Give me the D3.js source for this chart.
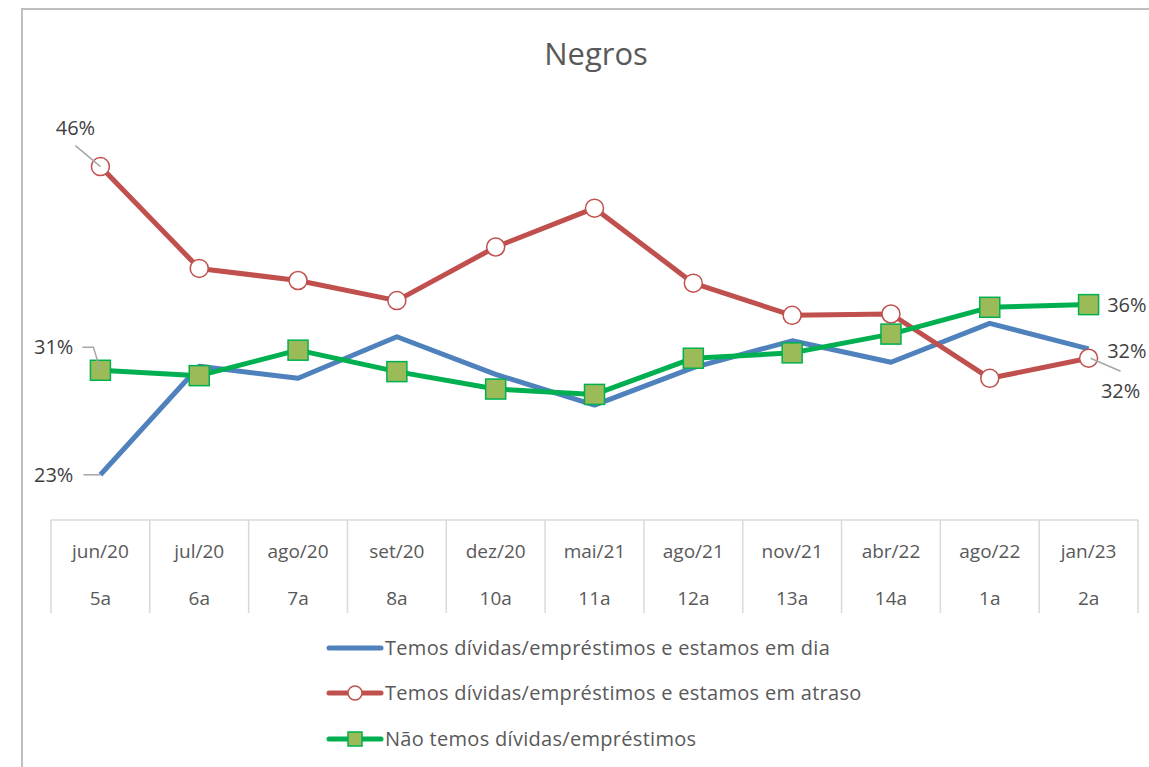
<!DOCTYPE html>
<html>
<head>
<meta charset="utf-8">
<script src="https://cdn.jsdelivr.net/npm/d3@7"></script>
<style>
  body { margin: 0; background: #fff; }
  svg { display: block; font-family: "Open Sans", Lato, sans-serif; }
</style>
</head>
<body>
<script>
'use strict';

// categories (two-row tick labels)
const months = ["jun/20", "jul/20", "ago/20", "set/20", "dez/20", "mai/21", "ago/21", "nov/21", "abr/22", "ago/22", "jan/23"];
const waves = ["5a", "6a", "7a", "8a", "10a", "11a", "12a", "13a", "14a", "1a", "2a"];

// series values (%)
const emDia = [23.0, 31.1, 30.2, 33.3, 30.5, 28.2, 31.0, 33.0, 31.4, 34.3, 32.4];
const emAtraso = [46.0, 38.4, 37.5, 36.0, 40.0, 42.9, 37.3, 34.9, 35.0, 30.2, 31.7];
const semDividas = [30.8, 30.4, 32.3, 30.7, 29.4, 29.0, 31.7, 32.1, 33.5, 35.5, 35.7];

const seriesNames = [
  "Temos dívidas/empréstimos e estamos em dia",
  "Temos dívidas/empréstimos e estamos em atraso",
  "Não temos dívidas/empréstimos"
];

(function () {
  const width = 1149, height = 767;
  const svg = d3.select("body").append("svg")
    .attr("width", width)
    .attr("height", height);

  // chart frame (only top and left edges are visible, rest is cropped)
  svg.append("path")
    .attr("d", "M22,767V9H1149")
    .attr("fill", "none")
    .attr("stroke", "#bfbfbf")
    .attr("stroke-width", 2);

  // title
  svg.append("text")
    .attr("x", 596)
    .attr("y", 65)
    .attr("text-anchor", "middle")
    .style("font-size", "31px")
    .style("fill", "#595959")
    .text("Negros");

  // scales
  const x = d3.scaleBand()
    .domain(months)
    .range([51, 1138]);
  const cx = function (i) { return x(months[i]) + x.bandwidth() / 2; };

  const y = d3.scaleLinear()
    .domain([20, 50])
    .range([515, 113]);

  // category axis drawn as a table
  const axisTop = 520, axisBottom = 613;
  const axis = svg.append("g");
  axis.append("line")
    .attr("x1", x.range()[0]).attr("x2", x.range()[1])
    .attr("y1", axisTop).attr("y2", axisTop)
    .attr("stroke", "#d9d9d9").attr("stroke-width", 1.5);
  const edges = months.map((m) => x(m)).concat([x.range()[1]]);
  axis.selectAll(".div")
    .data(edges)
    .enter()
    .append("line")
    .attr("x1", (d) => d).attr("x2", (d) => d)
    .attr("y1", axisTop).attr("y2", axisBottom)
    .attr("stroke", "#d9d9d9").attr("stroke-width", 1.5);
  axis.selectAll(".m")
    .data(months)
    .enter()
    .append("text")
    .attr("x", (d, i) => cx(i))
    .attr("y", 558)
    .attr("text-anchor", "middle")
    .style("font-size", "19px")
    .style("fill", "#595959")
    .text((d) => d);
  axis.selectAll(".w")
    .data(waves)
    .enter()
    .append("text")
    .attr("x", (d, i) => cx(i))
    .attr("y", 605)
    .attr("text-anchor", "middle")
    .style("font-size", "19px")
    .style("fill", "#595959")
    .text((d) => d);

  const line = d3.line()
    .x((d, i) => cx(i))
    .y((d) => y(d));

  // blue series
  svg.append("path")
    .datum(emDia)
    .attr("d", line)
    .attr("fill", "none")
    .attr("stroke", "#4f81bd")
    .attr("stroke-width", 5)
    .attr("stroke-linejoin", "round");

  // red series with open circles
  svg.append("path")
    .datum(emAtraso)
    .attr("d", line)
    .attr("fill", "none")
    .attr("stroke", "#c0504d")
    .attr("stroke-width", 5)
    .attr("stroke-linejoin", "round");
  svg.selectAll(".redDot")
    .data(emAtraso)
    .enter()
    .append("circle")
    .attr("cx", (d, i) => cx(i))
    .attr("cy", (d) => y(d))
    .attr("r", 9)
    .attr("fill", "#fff")
    .attr("stroke", "#c0504d")
    .attr("stroke-width", 1.5);

  // green series with squares
  svg.append("path")
    .datum(semDividas)
    .attr("d", line)
    .attr("fill", "none")
    .attr("stroke", "#00b050")
    .attr("stroke-width", 5)
    .attr("stroke-linejoin", "round");
  svg.selectAll(".greenSq")
    .data(semDividas)
    .enter()
    .append("rect")
    .attr("x", (d, i) => cx(i) - 10)
    .attr("y", (d) => y(d) - 10)
    .attr("width", 20)
    .attr("height", 20)
    .attr("fill", "#9bbb59")
    .attr("stroke", "#00b050")
    .attr("stroke-width", 1.5);

  // data labels at first and last points
  const last = months.length - 1;
  const labels = [
    { v: emAtraso[0], i: 0, dx: -25, dy: -32, anchor: "middle", leader: [[-25, -21], [0, 0]] },
    { v: semDividas[0], i: 0, dx: -27, dy: -16, anchor: "end", leader: [[-18, -23], [-7, -23], [0, 0]] },
    { v: emDia[0], i: 0, dx: -27, dy: 7, anchor: "end", leader: [[-17, 0], [0, 0]] },
    { v: semDividas[last], i: last, dx: 58, dy: 7, anchor: "end", leader: null },
    { v: emDia[last], i: last, dx: 58, dy: 9, anchor: "end", leader: null },
    { v: emAtraso[last], i: last, dx: 32, dy: 40, anchor: "middle", leader: [[2, 0], [32, 13]] }
  ];
  labels.forEach(function (l) {
    const px = cx(l.i), py = y(l.v);
    if (l.leader) {
      svg.append("polyline")
        .attr("points", l.leader.map((p) => (px + p[0]) + "," + (py + p[1])).join(" "))
        .attr("fill", "none")
        .attr("stroke", "#a6a6a6")
        .attr("stroke-width", 1.5);
    }
    svg.append("text")
      .attr("x", px + l.dx)
      .attr("y", py + l.dy)
      .attr("text-anchor", l.anchor)
      .style("font-size", "20px")
      .style("fill", "#404040")
      .text(Math.round(l.v) + "%");
  });

  // legend
  const legendY = [648, 693, 739];
  const legend = svg.append("g");
  const colors = ["#4f81bd", "#c0504d", "#00b050"];
  seriesNames.forEach(function (name, k) {
    const ly = legendY[k];
    legend.append("line")
      .attr("x1", 329).attr("x2", 381)
      .attr("y1", ly).attr("y2", ly)
      .attr("stroke", colors[k])
      .attr("stroke-width", 5)
      .attr("stroke-linecap", "round");
    if (k === 1) {
      legend.append("circle")
        .attr("cx", 355).attr("cy", ly).attr("r", 7)
        .attr("fill", "#fff").attr("stroke", "#c0504d").attr("stroke-width", 1.5);
    }
    if (k === 2) {
      legend.append("rect")
        .attr("x", 348).attr("y", ly - 7).attr("width", 14).attr("height", 14)
        .attr("fill", "#9bbb59").attr("stroke", "#00b050").attr("stroke-width", 1.5);
    }
    legend.append("text")
      .attr("x", 385)
      .attr("y", ly + 7)
      .style("font-size", "20px")
      .style("letter-spacing", "0.3px")
      .style("fill", "#595959")
      .text(name);
  });
})();
</script>
</body>
</html>
